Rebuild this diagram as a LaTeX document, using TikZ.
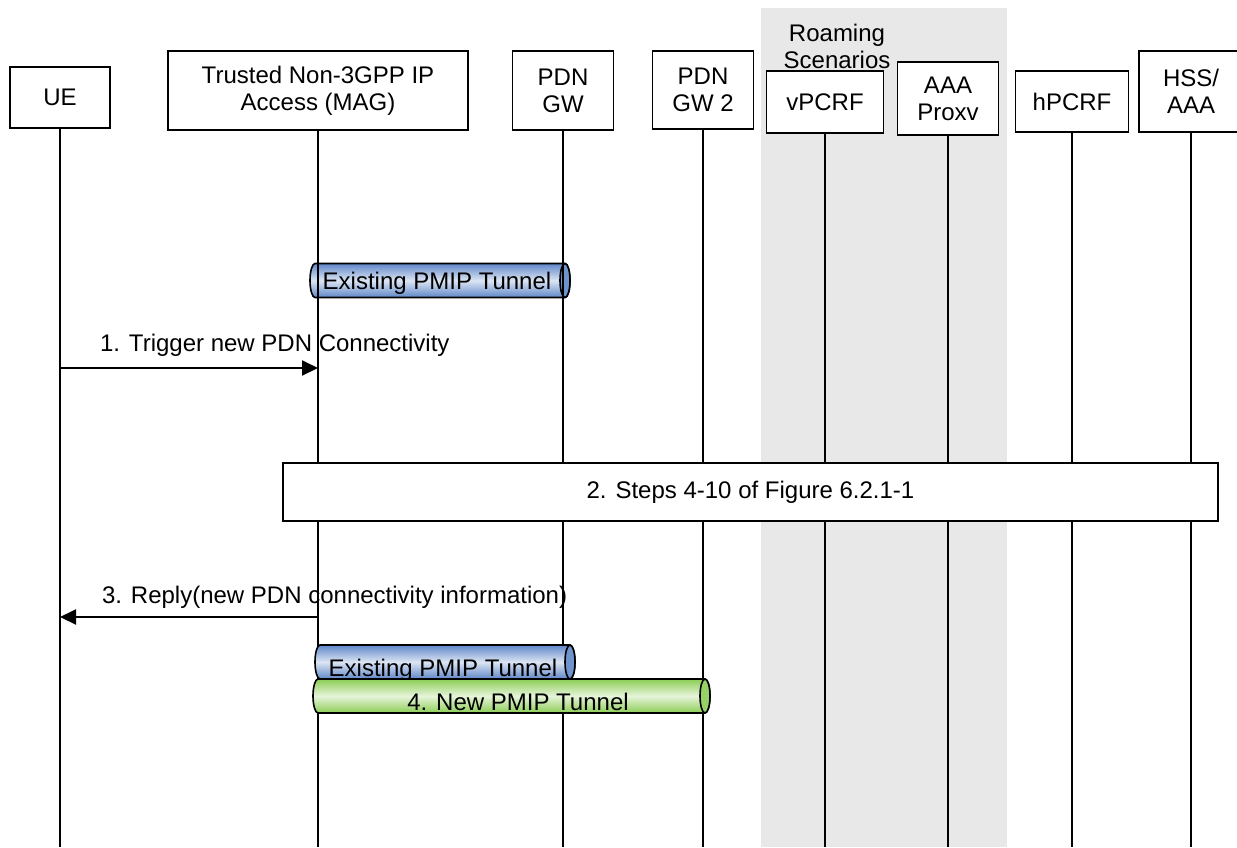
\documentclass[tikz,border=0pt]{standalone}
\usepackage{fontspec}
\setmainfont{Liberation Sans}
\usetikzlibrary{arrows.meta}
\definecolor{roamgray}{RGB}{232,232,232}
\definecolor{pipeblue}{RGB}{95,135,200}
\definecolor{pipegreen}{RGB}{140,205,85}
\newcommand{\pmiptube}[4]{%
  \draw[line width=0.8pt,top color=#4,bottom color=#4,middle color=#4!22]
    ({#1+5},{#3-17}) -- ({#2-5},{#3-17}) arc (90:-90:2.5pt and 8.5pt)
    -- ({#1+5},{#3+17}) arc (270:90:2.5pt and 8.5pt) -- cycle;
  \filldraw[line width=0.8pt,fill=#4!90] ({#2-5},{#3}) ellipse (2.5pt and 8.5pt);
}

\begin{document}
\begin{tikzpicture}[x=0.5pt,y=-0.5pt,font=\fontsize{12}{13.5}\selectfont,
    entity/.style={draw,line width=0.8pt,fill=white,align=center,inner sep=0pt},
    life/.style={line width=0.8pt},
    msg/.style={line width=1pt,-{Triangle[length=8pt,width=7.5pt]}}]
    \useasboundingbox (0,0) rectangle (1237,847);
    % roaming area
    \fill[roamgray] (761,8) rectangle (1007,847);
    \node[align=center] (roam) at (837,46) {Roaming\\Scenarios};
    % entities
    \node[entity,minimum width=50pt,minimum height=30.5pt] (ue) at (60,97.5) {UE};
    \node[entity,minimum width=150pt,minimum height=39.5pt] (mag) at (318,90.5)
        {Trusted Non-3GPP IP\\Access (MAG)};
    \node[entity,minimum width=50.5pt,minimum height=39.5pt] (gw) at (563,90.5) {PDN\\GW};
    \node[entity,minimum width=50.5pt,minimum height=39pt] (gw2) at (703,90) {PDN\\GW 2};
    \node[entity,minimum width=58.5pt,minimum height=31pt] (vpcrf) at (825,102) {vPCRF};
    \node[entity,minimum width=50.5pt,minimum height=36.5pt] (aaa) at (948,98.5) {AAA\\Proxv};
    \node[entity,minimum width=56.5pt,minimum height=30.5pt] (hpcrf) at (1072,101.5) {hPCRF};
    \node[entity,minimum width=52pt,minimum height=40.5pt] (hss) at (1191,91.5) {HSS/\\AAA};
    \coordinate (bot) at (0,847);
    % existing tunnel
    \pmiptube{310}{570}{280.5}{pipeblue}
    \node (t1) at (437,283) {Existing PMIP Tunnel};
    % lifelines
    \foreach \n in {ue,mag,gw,gw2,vpcrf,aaa,hpcrf,hss}
        \draw[life] (\n) -- (\n |- bot);
    % 1.
    \coordinate (m1) at (0,368);
    \draw[msg] (ue |- m1) -- (mag |- m1);
    \node[anchor=west] (l1) at (93,345) {1. Trigger new PDN Connectivity};
    % 2.
    \node[entity,minimum width=467.5pt,minimum height=29pt] (steps) at (750.5,492)
        {2. Steps 4-10 of Figure 6.2.1-1};
    % 3.
    \coordinate (m3) at (0,617);
    \draw[msg] (mag |- m3) -- (ue |- m3);
    \node[anchor=west] (l3) at (95,597) {3. Reply(new PDN connectivity information)};
    % 4.
    \pmiptube{315}{575}{662}{pipeblue}
    \node (t2) at (443,670) {Existing PMIP Tunnel};
    \pmiptube{313}{710}{696}{pipegreen}
    \node (t4) at (518,702) {4. New PMIP Tunnel};
\end{tikzpicture}
\end{document}
